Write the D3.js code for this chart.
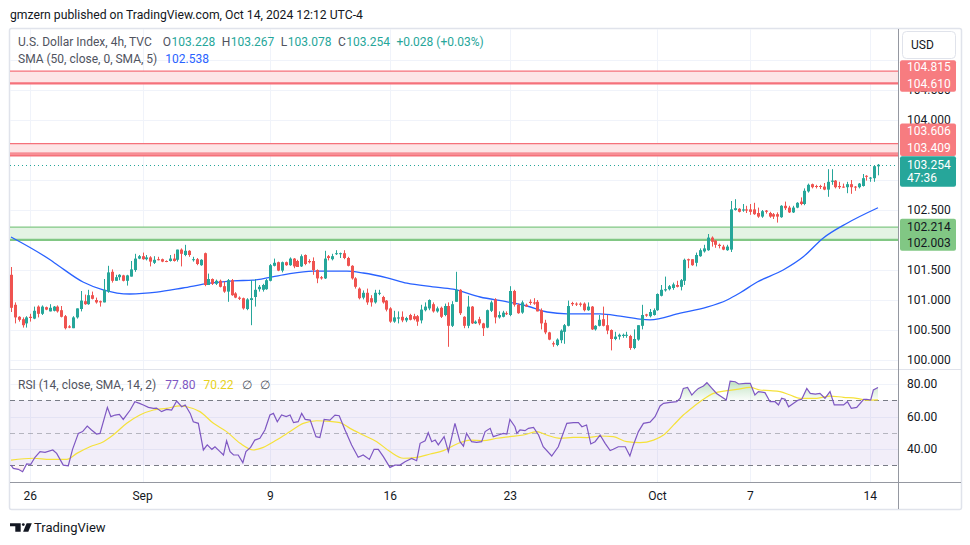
<!DOCTYPE html>
<html><head><meta charset="utf-8">
<script src="https://cdn.jsdelivr.net/npm/d3@7"></script>
<style>
html,body{margin:0;padding:0;background:#fff;}
svg{display:block;font-family:Roboto,"Noto Sans",sans-serif;}
</style></head><body>
<svg id="c" width="970" height="545"></svg>
<script>
// ---------- DATA ----------
const opens=[101.42,100.92,100.72,100.68,100.61,100.72,100.69,100.89,100.77,100.88,100.81,100.82,100.89,100.83,100.73,100.56,100.53,100.71,100.85,100.98,100.93,101.08,101.00,100.98,100.96,101.14,101.47,101.32,101.38,101.41,101.32,101.39,101.50,101.69,101.73,101.68,101.71,101.62,101.68,101.68,101.65,101.65,101.69,101.67,101.84,101.75,101.82,101.67,101.68,101.58,101.78,101.25,101.35,101.27,101.32,101.23,101.14,101.33,101.11,101.04,101.03,100.85,101.00,101.05,101.18,101.17,101.18,101.32,101.57,101.63,101.49,101.63,101.58,101.69,101.65,101.56,101.75,101.65,101.65,101.50,101.38,101.36,101.73,101.68,101.77,101.77,101.78,101.70,101.57,101.36,101.19,101.04,101.12,101.03,100.96,101.11,101.05,100.99,100.86,100.64,100.69,100.72,100.66,100.75,100.73,100.73,100.66,100.83,100.86,100.93,100.81,100.87,100.75,100.90,100.57,100.97,101.17,100.72,100.57,100.89,100.61,100.68,100.61,100.54,100.82,101.01,100.71,100.72,100.78,100.75,101.15,100.92,100.79,100.92,100.97,100.96,100.97,100.83,100.62,100.46,100.28,100.25,100.33,100.47,100.57,100.95,100.94,100.94,100.94,100.83,100.89,100.51,100.57,100.68,100.58,100.50,100.35,100.39,100.40,100.41,100.40,100.20,100.34,100.57,100.76,100.73,100.75,100.83,101.07,101.16,101.18,101.20,101.25,101.22,101.32,101.68,101.68,101.62,101.73,101.81,101.83,102.04,101.99,101.92,101.89,101.83,101.84,102.50,102.52,102.49,102.51,102.51,102.51,102.45,102.39,102.49,102.45,102.43,102.43,102.38,102.57,102.54,102.46,102.54,102.64,102.60,102.81,102.93,102.90,102.90,102.89,102.84,102.97,102.99,102.90,102.89,102.88,102.93,102.89,102.88,102.90,103.07,103.03,103.03,103.228];
const highs=[101.55,100.96,100.73,100.71,100.73,100.77,100.89,100.91,100.91,100.89,100.93,100.90,100.91,100.90,100.75,100.58,100.73,100.86,101.15,101.09,101.17,101.14,101.04,100.99,101.35,101.57,101.51,101.42,101.43,101.42,101.42,101.65,101.77,101.75,101.79,101.75,101.73,101.73,101.72,101.69,101.66,101.75,101.77,101.84,101.86,101.92,101.83,101.72,101.70,101.68,101.79,101.44,101.36,101.34,101.34,101.31,101.35,101.35,101.13,101.06,101.04,101.03,101.33,101.35,101.25,101.27,101.35,101.60,101.69,101.64,101.64,101.64,101.71,101.70,101.67,101.76,101.76,101.68,101.71,101.51,101.40,101.82,101.75,101.77,101.83,101.79,101.83,101.72,101.58,101.38,101.21,101.16,101.19,101.08,101.17,101.17,101.07,101.00,100.88,100.82,100.81,100.81,100.72,100.77,100.77,100.75,100.92,100.96,101.01,100.96,100.89,100.89,100.94,100.96,100.98,101.47,101.18,100.73,101.07,100.90,100.66,100.72,100.62,100.84,100.99,101.03,100.81,100.82,100.81,101.23,101.17,100.94,100.99,100.94,101.01,101.03,101.00,100.86,100.67,100.47,100.31,100.36,100.51,100.60,100.99,100.97,100.96,100.96,100.96,100.96,100.90,100.58,100.75,100.89,100.75,100.51,100.47,100.44,100.44,100.47,100.42,100.51,100.58,100.92,100.77,100.85,100.86,101.11,101.25,101.39,101.25,101.29,101.32,101.35,101.69,101.69,101.68,101.79,101.86,101.92,102.10,102.06,102.00,101.94,101.92,101.92,102.65,102.68,102.53,102.60,102.57,102.60,102.62,102.54,102.50,102.50,102.47,102.45,102.46,102.58,102.64,102.57,102.57,102.63,102.71,102.86,102.94,102.94,102.92,102.92,102.95,103.18,103.18,103.00,102.97,102.94,102.97,103.00,102.90,102.95,103.10,103.08,103.05,103.25,103.267];
const lows=[100.80,100.61,100.64,100.54,100.54,100.64,100.68,100.71,100.75,100.83,100.81,100.81,100.79,100.71,100.51,100.53,100.53,100.69,100.81,100.92,100.92,101.01,100.94,100.89,100.96,101.12,101.29,101.32,101.33,101.31,101.24,101.39,101.47,101.68,101.67,101.66,101.56,101.60,101.66,101.63,101.63,101.64,101.64,101.64,101.56,101.73,101.72,101.64,101.58,101.57,101.23,101.25,101.25,101.25,101.21,101.12,100.97,101.07,101.03,101.00,100.84,100.83,100.58,100.89,101.14,101.14,101.17,101.31,101.56,101.48,101.46,101.57,101.57,101.53,101.55,101.55,101.58,101.61,101.42,101.28,101.34,101.35,101.66,101.66,101.75,101.70,101.68,101.56,101.34,101.19,101.01,101.01,100.92,100.89,100.94,101.08,100.94,100.81,100.62,100.62,100.61,100.63,100.63,100.66,100.66,100.57,100.61,100.81,100.83,100.79,100.79,100.70,100.73,100.22,100.55,100.97,100.75,100.53,100.53,100.60,100.60,100.58,100.40,100.53,100.80,100.61,100.69,100.71,100.75,100.73,100.89,100.77,100.77,100.89,100.92,100.92,100.81,100.51,100.43,100.33,100.22,100.23,100.28,100.27,100.56,100.90,100.90,100.89,100.81,100.82,100.50,100.49,100.56,100.56,100.43,100.16,100.33,100.34,100.37,100.37,100.17,100.18,100.32,100.51,100.72,100.71,100.74,100.82,101.06,101.14,101.16,101.17,101.21,101.16,101.25,101.53,101.57,101.56,101.72,101.79,101.82,101.89,101.87,101.86,101.83,101.82,101.80,102.49,102.46,102.47,102.45,102.42,102.42,102.37,102.37,102.44,102.37,102.35,102.29,102.37,102.50,102.45,102.45,102.53,102.58,102.58,102.79,102.86,102.86,102.85,102.83,102.72,102.92,102.86,102.85,102.87,102.78,102.77,102.82,102.86,102.89,102.99,102.97,102.97,103.078];
const closes=[100.87,100.71,100.67,100.58,100.71,100.70,100.82,100.77,100.89,100.84,100.87,100.89,100.81,100.72,100.53,100.54,100.71,100.86,100.99,100.93,101.08,101.02,100.96,100.96,101.17,101.46,101.32,101.38,101.42,101.32,101.41,101.51,101.69,101.73,101.68,101.71,101.64,101.67,101.67,101.64,101.64,101.69,101.65,101.84,101.77,101.82,101.75,101.68,101.60,101.67,101.25,101.35,101.27,101.32,101.22,101.14,101.33,101.08,101.04,101.02,100.86,101.01,101.03,101.17,101.22,101.25,101.33,101.58,101.62,101.49,101.63,101.58,101.69,101.56,101.55,101.73,101.60,101.63,101.50,101.36,101.36,101.69,101.70,101.73,101.78,101.78,101.70,101.57,101.36,101.22,101.03,101.12,100.96,100.96,101.12,101.12,100.96,100.84,100.64,100.71,100.71,100.66,100.70,100.67,100.68,100.64,100.84,100.89,101.00,100.81,100.86,100.72,100.90,100.57,100.93,101.17,100.78,100.57,100.89,100.61,100.64,100.61,100.53,100.83,100.96,100.71,100.75,100.79,100.77,101.15,100.92,100.78,100.96,100.89,100.95,100.94,100.81,100.61,100.46,100.34,100.26,100.34,100.49,100.58,100.90,100.93,100.93,100.92,100.83,100.89,100.51,100.57,100.67,100.57,100.49,100.35,100.39,100.42,100.42,100.42,100.20,100.35,100.58,100.75,100.74,100.80,100.83,101.10,101.17,101.18,101.23,101.26,101.22,101.33,101.67,101.66,101.58,101.75,101.83,101.86,102.04,101.97,101.92,101.90,101.84,101.89,102.51,102.53,102.47,102.51,102.49,102.47,102.43,102.39,102.48,102.47,102.39,102.39,102.39,102.57,102.53,102.46,102.54,102.62,102.60,102.82,102.92,102.88,102.89,102.89,102.84,102.97,102.99,102.88,102.88,102.88,102.93,102.88,102.88,102.94,103.03,103.06,103.04,103.23,103.254];

// SMA(50) read at points along the curve: bar position and value
const smaIdx=[0,10.1,12.1,18.6,23.8,30.7,37.7,44.4,51.4,57.4,62.5,70.3,78.0,86.8,91.0,97.2,102.3,109.0,114.2,121.2,128.2,133.3,138.5,143.7,152.2,157.4,162.5,165.1,172.9,179.8,185.0,188.4,192.8,199.5,204.7,209.8,216.0,224];
const smaVal=[102.05,101.67,101.58,101.30,101.17,101.10,101.13,101.20,101.28,101.32,101.33,101.42,101.48,101.48,101.45,101.37,101.28,101.22,101.18,101.05,100.97,100.90,100.80,100.77,100.77,100.73,100.68,100.67,100.78,100.88,101.00,101.12,101.30,101.50,101.72,102.03,102.28,102.538];

// RSI(14) vertices
const rsiIdx=[0,0.6,1.9,3.0,4.05,5.1,6.2,7.5,8.8,10.8,11.8,13.5,14.8,15.9,17.4,18.5,19.7,20.8,22.1,23.0,24.9,25.8,26.9,28.0,29.0,30.8,32.0,33.2,34.2,35.5,36.8,37.6,38.9,40.2,41.5,42.8,44.1,45.0,46.3,47.1,48.4,49.7,50.7,51.9,52.7,54.0,54.9,55.7,56.6,57.5,58.7,59.9,60.7,61.9,63.0,64.3,65.6,66.9,67.8,68.8,69.9,71.1,72.1,73.0,74.2,75.1,76.0,77.3,78.8,79.8,80.9,82.4,83.7,84.8,86.3,88.0,89.7,91.0,92.6,93.8,94.9,96.2,97.9,99.2,100.5,101.8,103.5,104.8,105.7,107.0,107.8,108.7,109.6,110.4,111.9,113.0,114.7,116.0,116.9,117.7,119.0,120.3,121.6,122.5,123.8,124.6,125.9,127.2,128.1,128.9,130.2,130.7,131.5,132.8,133.7,135.0,136.3,137.5,139.7,141.4,143.6,145.3,146.6,147.5,148.7,149.8,150.9,152.2,153.5,154.8,155.6,156.9,158.7,159.9,160.8,162.1,163.4,165.1,166.4,167.7,168.6,170.3,172.0,172.9,173.7,174.8,175.9,176.7,177.6,178.9,179.8,181.1,182.3,184.8,185.8,187.1,188.0,189.7,191.0,192.2,193.1,194.8,196.1,197.4,198.3,199.1,200.0,200.9,202.2,203.4,204.3,205.6,206.5,207.8,209.0,210.3,211.6,212.7,213.8,215.1,216.1,217.1,218.5,220.3,221.1,222.1,222.8,224];
const rsiVal=[30.1,28.1,27.5,26.0,30.8,30.6,34.9,38.4,37.9,39.4,37.3,30.1,29.7,39.8,49.6,50.7,54.1,51.7,49.2,49.6,65.6,59.9,60.9,61.3,58.2,64.0,69.1,68.1,67.1,65.6,65.0,65.2,63.0,64.4,64.0,69.5,66.0,67.1,61.9,56.8,55.8,39.4,42.5,39.8,41.4,38.4,36.3,45.1,38.4,36.3,36.3,31.6,38.4,41.0,45.5,46.6,51.7,60.9,61.9,56.8,60.9,59.9,60.9,56.2,56.8,61.9,58.2,57.8,47.6,47.0,58.2,57.8,60.9,60.5,51.7,42.5,34.9,36.3,33.6,39.8,39.8,35.3,28.7,30.1,30.1,32.2,34.2,32.8,43.5,45.1,50.0,44.5,45.5,42.5,47.6,38.4,55.8,44.5,41.8,49.6,44.5,44.1,44.5,50.7,52.7,47.6,48.6,49.6,49.2,58.2,53.7,49.6,51.7,51.3,52.7,53.3,48.6,41.4,35.7,41.4,55.8,56.2,56.2,53.7,54.8,43.1,44.5,48.6,43.5,39.0,39.8,41.4,41.4,35.7,42.5,50.7,55.8,56.5,59.9,66.5,68.1,68.7,69.1,71.2,77.3,77.9,73.2,75.3,77.3,78.8,80.8,77.3,74.2,70.1,81.8,81.4,80.0,80.4,80.4,73.2,75.3,74.7,69.1,69.1,67.1,71.2,70.6,66.0,68.1,70.1,70.6,77.3,74.2,73.8,74.2,71.2,75.3,67.1,67.1,67.1,69.1,65.0,65.6,70.6,70.6,70.1,76.3,77.80];

// RSI-based moving average
const rsiMaIdx=[0,5.8,10.1,14.4,17.0,20.4,23.9,26.4,29.9,33.3,36.8,40.2,43.7,45.4,48.8,52.3,55.7,59.2,62.6,65.2,68.6,72.1,75.5,79.0,82.4,85.0,87.6,91.0,94.5,97.9,101.4,104.8,108.3,111.7,115.2,118.6,122.0,125.5,128.9,132.4,135.8,138.4,141.9,145.3,148.8,152.2,155.6,159.1,162.5,166.0,168.6,171.2,173.7,176.3,178.9,181.5,185.0,187.5,191.0,193.5,196.1,198.7,201.3,203.9,208.2,211.6,215.1,218.5,221.1,224];
const rsiMaVal=[33.2,34.3,33.6,33.6,37.3,41.4,44.5,48.6,55.8,60.9,64.0,65.0,66.5,66.0,63.0,55.8,50.7,43.5,39.4,41.0,45.5,50.7,55.8,57.4,57.0,56.2,52.7,48.6,44.5,38.4,34.3,34.9,36.9,39.0,43.1,45.5,45.1,46.6,47.6,48.6,50.7,48.6,46.6,47.2,47.0,48.0,47.6,44.5,43.9,45.5,48.6,54.8,60.9,66.0,70.6,74.2,75.9,76.7,77.9,76.3,75.9,75.3,73.2,71.2,71.2,72.6,71.8,71.2,70.1,70.22];

const upperResistance=[104.610,104.815];
const lowerResistance=[103.409,103.606];
const supportZone=[102.003,102.214];
const lastClose=103.254;
const barCountdown="47:36";
const priceTicks=[100,100.5,101,101.5,102,102.5,103,103.5,104,104.5,105];
const rsiTicks=[40,60,80];
const rsiBands=[30,50,70];
const timeTickIdx=[5,34,67,98,129,167,191,222];
const timeTickLabels=["26","Sep","9","16","23","Oct","7","14"];
const headerText="gmzern published on TradingView.com, Oct 14, 2024 12:12 UTC-4";
const legendTitle="U.S. Dollar Index, 4h, TVC";
const legendOHLC=[["O","103.228"],["H","103.267"],["L","103.078"],["C","103.254"]];
const legendChange="+0.028 (+0.03%)";
const smaLegend=["SMA (50, close, 0, SMA, 5)","102.538"];
const rsiLegend=["RSI (14, close, SMA, 14, 2)","77.80","70.22","∅","∅"];

// ---------- DRAW ----------
const UP="#26a69a", DN="#ef5350", TXT="#131722", GRAY="#50535e", GRID="#f0f3fa";
const svg=d3.select("#c");
const L=10, R=898, T=29, MB=369, RT=370, RB=482, B=509, FR=961;
const N=closes.length;
const x=d3.scaleLinear().domain([0,N-1]).range([11,878]);
const y=d3.scaleLinear().domain([100,105.5]).range([360,30]);
const yr=d3.scaleLinear().domain([30,70]).range([465.25,400.25]);

const defs=svg.append("defs");
defs.append("clipPath").attr("id","mainClip").append("rect").attr("x",L).attr("y",T).attr("width",R-L).attr("height",MB-T);
defs.append("clipPath").attr("id","rsiClip").append("rect").attr("x",L).attr("y",RT).attr("width",R-L).attr("height",RB-RT);
defs.append("clipPath").attr("id","obClip").append("rect").attr("x",L).attr("y",RT).attr("width",R-L).attr("height",yr(70)-RT);
defs.append("clipPath").attr("id","osClip").append("rect").attr("x",L).attr("y",yr(30)).attr("width",R-L).attr("height",RB-yr(30));
const gOb=defs.append("linearGradient").attr("id","gOb").attr("gradientUnits","userSpaceOnUse").attr("x1",0).attr("x2",0).attr("y1",yr(82)).attr("y2",yr(70));
gOb.append("stop").attr("offset",0).attr("stop-color","#4caf50").attr("stop-opacity",0.35);
gOb.append("stop").attr("offset",1).attr("stop-color","#4caf50").attr("stop-opacity",0.03);
const gOs=defs.append("linearGradient").attr("id","gOs").attr("gradientUnits","userSpaceOnUse").attr("x1",0).attr("x2",0).attr("y1",yr(30)).attr("y2",yr(20));
gOs.append("stop").attr("offset",0).attr("stop-color","#f23645").attr("stop-opacity",0.03);
gOs.append("stop").attr("offset",1).attr("stop-color","#f23645").attr("stop-opacity",0.3);

// frame
svg.append("rect").attr("x",L-0.5).attr("y",T-0.5).attr("width",FR-L+1).attr("height",B-T+1)
  .attr("fill","#fff").attr("stroke","#e0e3eb").attr("stroke-width",1.5).attr("rx",2);

// grid
const grid=svg.append("g");
grid.selectAll("line.h").data(priceTicks).join("line")
  .attr("x1",L).attr("x2",R).attr("y1",d=>Math.round(y(d))+0.5).attr("y2",d=>Math.round(y(d))+0.5)
  .attr("stroke",GRID);
grid.selectAll("line.r").data(rsiTicks).join("line")
  .attr("x1",L).attr("x2",R).attr("y1",d=>Math.round(yr(d))+0.5).attr("y2",d=>Math.round(yr(d))+0.5)
  .attr("stroke",GRID);
grid.selectAll("line.v").data(timeTickIdx).join("line")
  .attr("x1",d=>Math.round(x(d))+0.5).attr("x2",d=>Math.round(x(d))+0.5).attr("y1",T).attr("y2",RB)
  .attr("stroke",GRID);

// zones
const main=svg.append("g").attr("clip-path","url(#mainClip)");
function zone(pr,fill,line,bottomExtra){
  main.append("rect").attr("x",L).attr("width",R-L).attr("y",y(pr[1])).attr("height",y(pr[0])-y(pr[1])).attr("fill",fill);
  main.append("line").attr("x1",L).attr("x2",R).attr("y1",y(pr[1])).attr("y2",y(pr[1])).attr("stroke",line).attr("stroke-width",1.2);
  main.append("line").attr("x1",L).attr("x2",R).attr("y1",y(pr[0])).attr("y2",y(pr[0])).attr("stroke",line).attr("stroke-width",2.2);
  if(bottomExtra) main.append("line").attr("x1",L).attr("x2",R).attr("y1",y(pr[0])-2.3).attr("y2",y(pr[0])-2.3).attr("stroke",line).attr("stroke-width",1.2);
}
zone(upperResistance,"#fde5e6","#f5717a",false);
zone(lowerResistance,"#fde5e6","#f5717a",true);
zone(supportZone,"#e4f3e4","#81c784",false);

// last price dotted line
main.append("line").attr("x1",L).attr("x2",R).attr("y1",Math.round(y(lastClose))+0.5).attr("y2",Math.round(y(lastClose))+0.5)
  .attr("stroke",UP).attr("stroke-dasharray","1,3");

// SMA
main.append("path").datum(d3.range(smaIdx.length))
  .attr("d",d3.line().x(i=>x(smaIdx[i])).y(i=>y(smaVal[i])).curve(d3.curveMonotoneX))
  .attr("fill","none").attr("stroke","#2962ff").attr("stroke-width",1.3);

// candles
const cg=main.append("g");
const idx=d3.range(N);
cg.selectAll("line.w").data(idx).join("line")
  .attr("x1",i=>Math.round(x(i))+0.5).attr("x2",i=>Math.round(x(i))+0.5)
  .attr("y1",i=>y(highs[i])).attr("y2",i=>y(lows[i]))
  .attr("stroke",i=>closes[i]>=opens[i]?UP:DN).attr("stroke-width",1);
cg.selectAll("rect.b").data(idx).join("rect")
  .attr("x",i=>Math.round(x(i))-1).attr("width",3)
  .attr("y",i=>y(Math.max(opens[i],closes[i])))
  .attr("height",i=>Math.max(1,Math.abs(y(opens[i])-y(closes[i]))))
  .attr("fill",i=>closes[i]>=opens[i]?UP:DN);

// pane separator
svg.append("line").attr("x1",L).attr("x2",FR).attr("y1",MB+0.5).attr("y2",MB+0.5).attr("stroke","#e0e3eb");

// RSI pane
const rg=svg.append("g").attr("clip-path","url(#rsiClip)");
rg.append("rect").attr("x",L).attr("width",R-L).attr("y",yr(70)).attr("height",yr(30)-yr(70)).attr("fill","#7e57c2").attr("fill-opacity",0.1);
rg.selectAll("line.band").data(rsiBands).join("line")
  .attr("x1",L).attr("x2",R).attr("y1",d=>Math.round(yr(d))+0.5).attr("y2",d=>Math.round(yr(d))+0.5)
  .attr("stroke","#787b86").attr("stroke-opacity",d=>d===50?0.5:1).attr("stroke-dasharray","5,4");
const ri=d3.range(rsiIdx.length);
rg.append("path").datum(ri).attr("clip-path","url(#obClip)")
  .attr("d",d3.area().x(i=>x(rsiIdx[i])).y0(yr(70)).y1(i=>yr(rsiVal[i])))
  .attr("fill","url(#gOb)");
rg.append("path").datum(ri).attr("clip-path","url(#osClip)")
  .attr("d",d3.area().x(i=>x(rsiIdx[i])).y0(yr(30)).y1(i=>yr(rsiVal[i])))
  .attr("fill","url(#gOs)");
rg.append("path").datum(d3.range(rsiMaIdx.length))
  .attr("d",d3.line().x(i=>x(rsiMaIdx[i])).y(i=>yr(rsiMaVal[i])).curve(d3.curveMonotoneX))
  .attr("fill","none").attr("stroke","#f5e13a").attr("stroke-width",1.2);
rg.append("path").datum(ri)
  .attr("d",d3.line().x(i=>x(rsiIdx[i])).y(i=>yr(rsiVal[i])))
  .attr("fill","none").attr("stroke","#7e57c2").attr("stroke-width",1.2);

// axes lines
svg.append("line").attr("x1",R+0.5).attr("x2",R+0.5).attr("y1",T).attr("y2",B).attr("stroke","#9598a1");
svg.append("line").attr("x1",L).attr("x2",FR).attr("y1",RB+0.5).attr("y2",RB+0.5).attr("stroke","#9598a1");

// price axis label boxes (computed first so hidden tick labels can be skipped)
const f3=d3.format(".3f");
const boxes=[];
{const c2=y(upperResistance[0]), c1=c2-16.6; boxes.push({top:c1-6.5,bot:c2+8.3,fill:"#f77c80",rows:[[f3(upperResistance[1]),c1,"#fff"],[f3(upperResistance[0]),c2,"#fff"]]});}
{const c2=y(lastClose)-16.8, c1=c2-17; boxes.push({top:c1-7.5,bot:c2+8,fill:"#f77c80",rows:[[f3(lowerResistance[1]),c1,"#fff"],[f3(lowerResistance[0]),c2,"#fff"]]});}
{const c1=y(lastClose); boxes.push({top:c1-8.5,bot:c1+22,fill:UP,rows:[[f3(lastClose),c1,"#fff"],[barCountdown,c1+13.3,"#fff"]]});}
{const c1=y(supportZone[1])-0.5, c2=c1+16.2; boxes.push({top:c1-8,bot:c2+8,fill:"#81c784",rows:[[f3(supportZone[1]),c1,TXT],[f3(supportZone[0]),c2,TXT]]});}
const usdBox={top:31.5,bot:58.5};
const hidden=v=>{const cy=y(v);return boxes.concat([usdBox]).some(b=>cy>b.top-2&&cy<b.bot-3);};

// price labels
svg.append("g").selectAll("text").data(priceTicks.filter(v=>!hidden(v))).join("text")
  .attr("x",907).attr("y",d=>y(d)).attr("dy","0.35em").attr("font-size",12).attr("fill",TXT)
  .text(d=>f3(d));
svg.append("g").selectAll("text").data(rsiTicks).join("text")
  .attr("x",907).attr("y",d=>yr(d)).attr("dy","0.35em").attr("font-size",12).attr("fill",TXT)
  .text(d=>d3.format(".2f")(d));

// time labels
svg.append("g").selectAll("text").data(timeTickIdx).join("text")
  .attr("x",d=>x(d)).attr("y",496).attr("dy","0.35em").attr("text-anchor","middle").attr("font-size",12).attr("fill",TXT)
  .text((d,i)=>timeTickLabels[i]);

boxes.forEach(b=>{
  svg.append("rect").attr("x",900).attr("y",b.top).attr("width",56).attr("height",b.bot-b.top).attr("rx",2).attr("fill",b.fill);
  b.rows.forEach(([t,cy,col])=>svg.append("text").attr("x",907).attr("y",cy).attr("dy","0.35em").attr("font-size",12).attr("fill",col).text(t));
});

// USD button
svg.append("rect").attr("x",902.5).attr("y",31.5).attr("width",53).attr("height",27).attr("rx",4).attr("fill","#fff").attr("stroke","#e0e3eb");
svg.append("text").attr("x",911).attr("y",45).attr("dy","0.35em").attr("font-size",12).attr("fill",TXT).text("USD");

// header
svg.append("text").attr("x",10).attr("y",15).attr("dy","0.35em").attr("font-size",12.2).attr("fill",TXT).text(headerText);

// legends
function seq(yc, parts, x0){
  let cx=x0;
  parts.forEach(p=>{
    const t=svg.append("text").attr("x",cx).attr("y",yc).attr("dy","0.35em").attr("font-size",12).attr("fill",p.c).text(p.t);
    cx+=t.node().getComputedTextLength()+(p.g===undefined?7:p.g);
  });
}
const leg1=[{t:legendTitle,c:GRAY,g:11}];
legendOHLC.forEach(([k,v])=>{leg1.push({t:k,c:GRAY,g:0.5});leg1.push({t:v,c:UP,g:6.5});});
leg1.push({t:legendChange,c:UP});
seq(42,leg1,18);
seq(59,[{t:smaLegend[0],c:GRAY,g:8},{t:smaLegend[1],c:"#2962ff"}],18);
seq(385,[{t:rsiLegend[0],c:GRAY,g:9},{t:rsiLegend[1],c:"#7e57c2",g:8},{t:rsiLegend[2],c:"#e8d21d",g:8},{t:rsiLegend[3],c:GRAY,g:8},{t:rsiLegend[4],c:GRAY}],18);

// TradingView logo
const lg=svg.append("g").attr("fill",TXT);
lg.append("path").attr("d","M10,523.3H20.7V531.7H15.3V526.3H10Z");
lg.append("circle").attr("cx",23.3).attr("cy",524.6).attr("r",1.4);
lg.append("path").attr("d","M26.6,523.3H31.8L28.3,531.7H23.1Z");
svg.append("text").attr("x",34).attr("y",527.5).attr("dy","0.35em").attr("font-size",13).attr("fill",TXT).text("TradingView");
</script>
</body></html>
